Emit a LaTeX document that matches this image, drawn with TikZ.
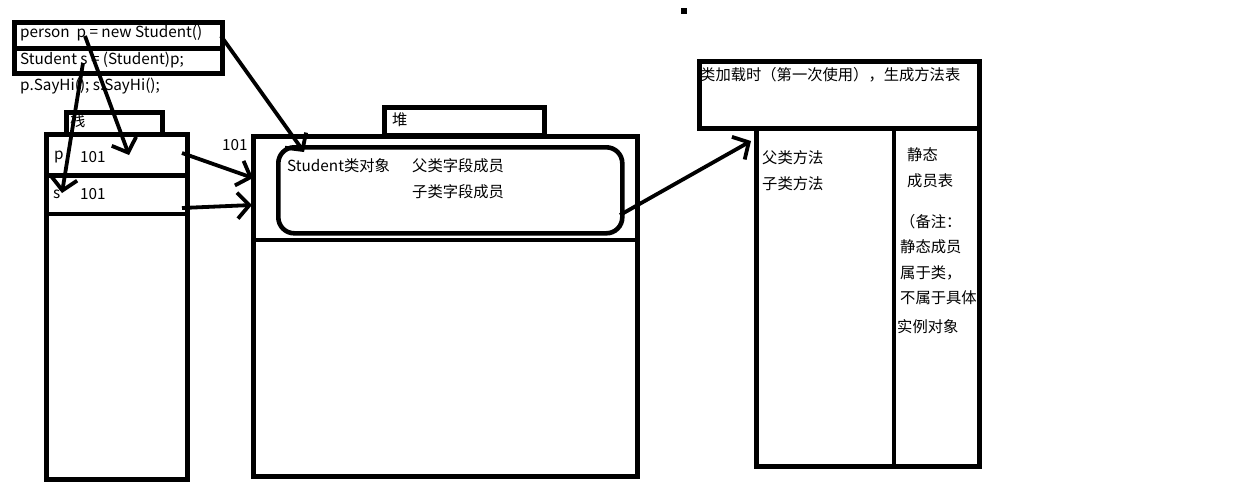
\documentclass[tikz,border=0pt]{standalone}
\usepackage{fontspec}
\setmainfont{Noto Sans CJK SC}
\usepackage{tikz}
\usetikzlibrary{positioning,arrows.meta}
\tikzset{
  frame/.style={draw,line width=4.6pt,inner sep=0pt,anchor=north west},
  txt/.style={anchor=west,inner sep=0pt,font=\fontsize{15.3}{17}\selectfont},
  ptr/.style={line width=3.8pt,-{Straight Barb[length=12pt,width=26pt,line width=3.8pt]}}
}

\begin{document}
\begin{tikzpicture}[x=1pt,y=-1pt]
\useasboundingbox (0,0) rectangle (1237,491);
% code lines
\node[frame,minimum width=208pt,minimum height=26pt] (code1) at (12,20) {};
\node[frame,minimum width=208pt,minimum height=25pt] (code2) at (12,46) {};
\node[txt] (l1) at (20,33) {person\ \ p = new Student()};
\node[txt] (l2) at (20,60) {Student s = (Student)p;};
\node[txt] (l3) at (20,86) {p.SayHi(); s.SayHi();};

% stack
\node[frame,minimum width=96pt,minimum height=22pt] (stacktab) at (64,110) {};
\node[txt] (stacklbl) at (70,121) {栈};
\node[frame,minimum width=141pt,minimum height=345pt] (stack) at (44,132) {};
\draw[line width=4.6pt] (stack.west |- 0,175.5) -- (stack.east |- 0,175.5);
\draw[line width=4.6pt] (stack.west |- 0,214) -- (stack.east |- 0,214);
\node[txt] (pvar) at (54,157) {p};
\node[txt] (pval) at (80,157) {101};
\node[txt] (svar) at (53,194) {s};
\node[txt] (sval) at (80,194) {101};

% heap
\node[frame,minimum width=160pt,minimum height=28pt] (heaptab) at (382,105) {};
\node[txt] (heaplbl) at (392,120) {堆};
\node[frame,minimum width=384pt,minimum height=340pt] (heap) at (251,134) {};
\draw[line width=4.6pt] (heap.west |- 0,240) -- (heap.east |- 0,240);
\node[txt] (addr) at (222,145) {101};
\node[draw,line width=4.6pt,rounded corners=16pt,inner sep=0pt,anchor=north west,
  minimum width=344pt,minimum height=86pt] (obj) at (276,145) {};
\node[txt] (objlbl) at (287,166) {Student类对象};
\node[txt] (pfield) at (412,166) {父类字段成员};
\node[txt] (cfield) at (412,192) {子类字段成员};

% method table
\node[frame,minimum width=280pt,minimum height=67pt] (mhead) at (697,59) {};
\node[txt] (mheadlbl) at (700,75) {类加载时（第一次使用），生成方法表};
\node[frame,minimum width=223pt,minimum height=338pt] (mbody) at (754,126) {};
\draw[line width=4.6pt] (894,126) -- (894,464);
\node[txt] (pm) at (762,158) {父类方法};
\node[txt] (cm) at (762,184) {子类方法};
\node[txt] (st1) at (907,155) {静态};
\node[txt] (st2) at (907,181) {成员表};
\node[txt] (n1) at (900,222) {（备注：};
\node[txt] (n2) at (900,247) {静态成员};
\node[txt] (n3) at (900,273) {属于类，};
\node[txt] (n4) at (900,298) {不属于具体};
\node[txt] (n5) at (897,327) {实例对象};

\fill (681,8) rectangle (687,14);

% pointers
\coordinate (pfrom) at (85,36);
\coordinate (pto) at (129,155);
\coordinate (sfrom) at (83,63);
\coordinate (sto) at (62,193);
\coordinate (newfrom) at (221,36);
\coordinate (newto) at (304,152);
\coordinate (prow) at (182,153);
\coordinate (srow) at (182,208);
\coordinate (heapin1) at (253,178);
\coordinate (heapin2) at (252,205);
\coordinate (objout) at (620,215);
\coordinate (mtin) at (751,141);
\draw[ptr] (pfrom) -- (pto);
\draw[ptr] (sfrom) -- (sto);
\draw[ptr] (newfrom) -- (newto);
\draw[ptr] (prow) -- (heapin1);
\draw[ptr] (srow) -- (heapin2);
\draw[ptr] (objout) -- (mtin);
\end{tikzpicture}
\end{document}
